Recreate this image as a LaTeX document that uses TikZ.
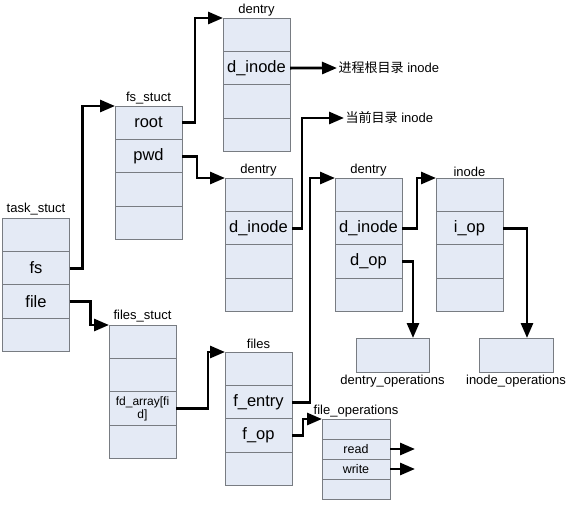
\documentclass[tikz,border=0pt]{standalone}
\usepackage{fontspec}
\setmainfont{Liberation Sans}
\newfontfamily\cjk{Noto Sans CJK SC}
\usetikzlibrary{positioning,arrows.meta}
\definecolor{cellfill}{RGB}{228,234,245}
\definecolor{cellline}{RGB}{120,124,130}

\tikzset{
  cell/.style={draw=cellline, fill=cellfill, line width=0.8pt, outer sep=0pt, inner sep=0pt,
    minimum width=67pt, minimum height=33.4pt, font=\fontsize{16.5}{18}\selectfont},
  opcell/.style={cell, minimum width=68pt, minimum height=20pt, font=\fontsize{12.5}{14}\selectfont},
  title/.style={inner sep=1.5pt, font=\fontsize{13}{15}\selectfont},
  ptr/.style={line width=2.8pt, -{Triangle[length=15pt,width=12pt]}}
}

\begin{document}
\begin{tikzpicture}[x=1pt,y=-1pt]
\useasboundingbox (0,0) rectangle (573,509);

% task_stuct
\node[cell, anchor=north] (ts1) at (36,218) {};
\node[cell, below=0pt of ts1] (ts2) {fs};
\node[cell, below=0pt of ts2] (ts3) {file};
\node[cell, below=0pt of ts3] (ts4) {};
\node[title, above=1pt of ts1] {task\_stuct};

% fs_stuct
\node[cell, anchor=north] (fss1) at (148.5,106) {root};
\node[cell, below=0pt of fss1] (fss2) {pwd};
\node[cell, below=0pt of fss2] (fss3) {};
\node[cell, below=0pt of fss3] (fss4) {};
\node[title, above=0pt of fss1] {fs\_stuct};

% root dentry
\node[cell, anchor=north] (dA1) at (256.5,18) {};
\node[cell, below=0pt of dA1] (dA2) {d\_inode};
\node[cell, below=0pt of dA2] (dA3) {};
\node[cell, below=0pt of dA3] (dA4) {};
\node[title, above=0pt of dA1] {dentry};

% pwd dentry
\node[cell, anchor=north] (dB1) at (258.5,178) {};
\node[cell, below=0pt of dB1] (dB2) {d\_inode};
\node[cell, below=0pt of dB2] (dB3) {};
\node[cell, below=0pt of dB3] (dB4) {};
\node[title, above=0pt of dB1] {dentry};

% file dentry
\node[cell, anchor=north] (dC1) at (368.5,178) {};
\node[cell, below=0pt of dC1] (dC2) {d\_inode};
\node[cell, below=0pt of dC2] (dC3) {d\_op};
\node[cell, below=0pt of dC3] (dC4) {};
\node[title, above=0pt of dC1] {dentry};

% inode
\node[cell, anchor=north] (ino1) at (469.5,178) {};
\node[cell, below=0pt of ino1] (ino2) {i\_op};
\node[cell, below=0pt of ino2] (ino3) {};
\node[cell, below=0pt of ino3] (ino4) {};
\node[title, above=0pt of ino1] {inode};

% operation tables
\node[cell, minimum width=73pt, minimum height=34pt, anchor=north] (dops) at (392.5,338) {};
\node[title, below=1pt of dops] {dentry\_operations};
\node[cell, minimum width=74pt, minimum height=34pt, anchor=north] (iops) at (516,338) {};
\node[title, below=1pt of iops] {inode\_operations};

% files_stuct
\node[cell, anchor=north] (fis1) at (142.5,325) {};
\node[cell, below=0pt of fis1] (fis2) {};
\node[cell, below=0pt of fis2, align=center, font=\fontsize{12}{13}\selectfont] (fis3) {fd\_array[fi\\d]};
\node[cell, below=0pt of fis3] (fis4) {};
\node[title, above=1pt of fis1] {files\_stuct};

% files
\node[cell, anchor=north] (fil1) at (258.5,352) {};
\node[cell, below=0pt of fil1] (fil2) {f\_entry};
\node[cell, below=0pt of fil2] (fil3) {f\_op};
\node[cell, below=0pt of fil3] (fil4) {};
\node[title, above=2pt of fil1] {files};

% file_operations
\node[opcell, anchor=north] (fop1) at (356,419) {};
\node[opcell, below=0pt of fop1] (fop2) {read};
\node[opcell, below=0pt of fop2] (fop3) {write};
\node[opcell, below=0pt of fop3] (fop4) {};
\node[title, above=0pt of fop1] {file\_operations};

% inode labels
\node[title, anchor=west] (rootino) at (337,68) {{\cjk 进程根目录} inode};
\node[title, anchor=west] (curino) at (344,118) {{\cjk 当前目录} inode};

% pointers
\draw[ptr] (ts2.east) -- ++(13,0) |- (fss1.north west);
\draw[ptr] (ts3.east) -- ++(21,0) |- (fis1.north west);
\draw[ptr] (fss1.east) -- ++(13,0) |- (dA1.north west);
\draw[ptr] (fss2.east) -- ++(15,0) |- (dB1.north west);
\draw[ptr] (dA2.east) -- (rootino.west);
\draw[ptr] (dB2.east) -- ++(10,0) |- (curino.west);
\draw[ptr] (fis3.east) -- ++(32,0) |- (fil1.north west);
\draw[ptr] (fil2.east) -- ++(18,0) |- (dC1.north west);
\draw[ptr] (fil3.east) -- ++(11,0) |- (fop1.north west);
\draw[ptr] (dC2.east) -- ++(15,0) |- (ino1.north west);
\draw[ptr] (dC3.east) -- ++(11,0) coordinate (dk) -- (dk |- dops.north);
\draw[ptr] (ino2.east) -- ++(24,0) coordinate (ik) -- (ik |- iops.north);
\draw[ptr] (fop2.east) -- ++(25,0);
\draw[ptr] (fop3.east) -- ++(25,0);
\end{tikzpicture}
\end{document}
